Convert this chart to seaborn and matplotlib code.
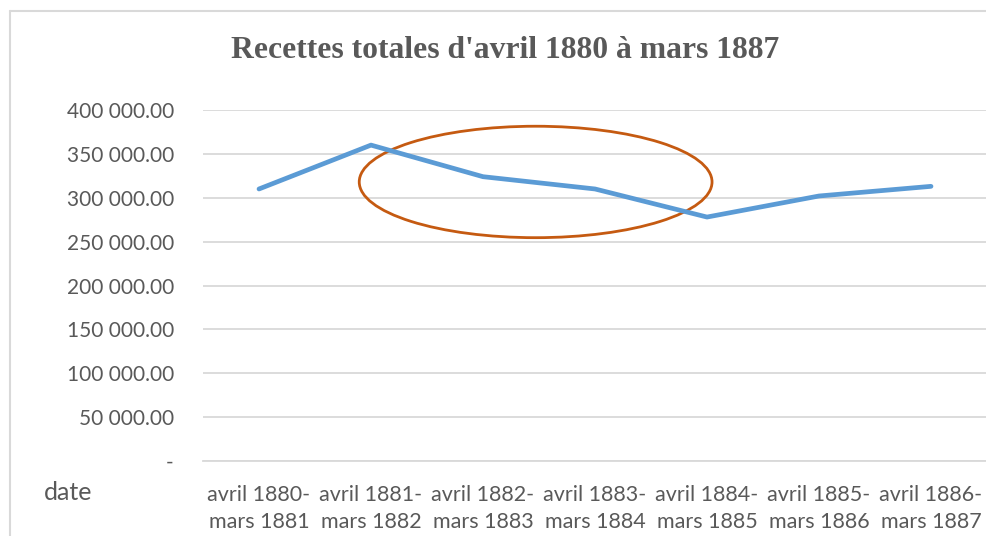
import pandas as pd
import matplotlib
matplotlib.use('Agg')
import matplotlib.pyplot as plt
from matplotlib.patches import Ellipse
from matplotlib.lines import Line2D
from matplotlib.ticker import FuncFormatter, FixedLocator
import seaborn as sns

# data
periodes = ['avril 1880-\nmars 1881', 'avril 1881-\nmars 1882', 'avril 1882-\nmars 1883',
            'avril 1883-\nmars 1884', 'avril 1884-\nmars 1885', 'avril 1885-\nmars 1886',
            'avril 1886-\nmars 1887']
recettes = [310000, 360000, 324000, 310000, 278000, 302000, 313000]

df = pd.DataFrame({'periode': periodes, 'recettes': recettes})

sns.set_style('white')
plt.rcParams['font.family'] = ['Lato', 'DejaVu Sans']

grey = '#595959'
grid = '#d9d9d9'

fig = plt.figure(figsize=(9.87, 5.36), dpi=100)
ax = fig.add_axes([203 / 987, 1 - 461 / 536, 784 / 987, 351 / 536])

sns.lineplot(data=df, x='periode', y='recettes', sort=False, ax=ax,
             color='#5b9bd5', linewidth=3.4, solid_capstyle='round')

ax.set_xlim(-0.5, len(periodes) - 0.5)
ax.set_ylim(0, 400000)
ax.set_yticks(range(0, 400001, 50000))
ax.yaxis.set_major_formatter(FuncFormatter(
    lambda v, p: '-' if v == 0 else f'{v:,.2f}'.replace(',', ' ')))
ax.grid(axis='y', color=grid, linewidth=1.3)
ax.set_axisbelow(True)

for s in ['top', 'right', 'left']:
    ax.spines[s].set_visible(False)
ax.spines['bottom'].set_color(grid)
ax.spines['bottom'].set_linewidth(1.3)

ax.tick_params(axis='y', length=0, pad=21, labelsize=15, labelcolor=grey)
ax.tick_params(axis='x', which='major', length=0, pad=17, labelsize=15.5, labelcolor=grey)
ax.xaxis.set_minor_locator(FixedLocator([i - 0.5 for i in range(len(periodes) + 1)]))
ax.tick_params(axis='x', which='minor', length=6, width=1.3, color=grid)
for lbl in ax.get_xticklabels():
    lbl.set_linespacing(1.45)

ax.set_xlabel('')
ax.set_ylabel('')

# highlight ellipse
ax.add_patch(Ellipse((2.47, 318000), 3.15, 127000, fill=False,
                     edgecolor='#c55a11', linewidth=2.0, clip_on=False))

fig.text(505 / 987, 1 - 51 / 536, "Recettes totales d'avril 1880 à mars 1887",
         ha='center', va='center', fontsize=22.8, fontweight='bold',
         color=grey, family='Liberation Serif')
fig.text(68 / 987, 1 - 492 / 536, 'date', ha='center', va='center',
         fontsize=18, color=grey)

# chart area border (left and top visible)
bx, by = 9.5 / 987, 1 - 10.5 / 536
fig.add_artist(Line2D([bx, bx], [0, by], transform=fig.transFigure, color=grid, linewidth=1.5))
fig.add_artist(Line2D([bx, 1], [by, by], transform=fig.transFigure, color=grid, linewidth=1.5))

fig.savefig('out.png', dpi=100)
